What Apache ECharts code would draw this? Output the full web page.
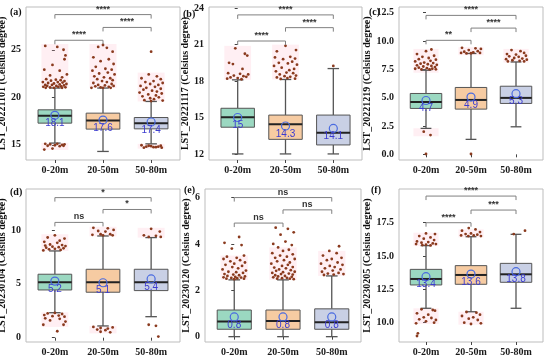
<!DOCTYPE html>
<html><head><meta charset="utf-8">
<script src="https://cdn.jsdelivr.net/npm/echarts@6/dist/echarts.min.js"></script>
<style>html,body{margin:0;padding:0;background:#fff}#c{width:550px;height:359px}</style>
</head><body><div id="c"></div>
<script>
const categories = ['0-20m', '20-50m', '50-80m'];
const panelTags = ['(a)', '(b)', '(c)', '(d)', '(e)', '(f)'];
const yTitles = ['LST_20221101 (Celsius degree)', 'LST_20221117 (Celsius degree)', 'LST_20221219 (Celsius degree)',
  'LST_20230104 (Celsius degree)', 'LST_20230120 (Celsius degree)', 'LST_20230205 (Celsius degree)'];

// y ranges and tick values
const yRangeA = [13.4, 29.5], yTicksA = [15, 20, 25];
const yRangeB = [11.5, 24.1], yTicksB = [12, 15, 18, 21, 24];
const yRangeC = [-0.5, 13.0], yTicksC = [0, 2.5, 5, 7.5, 10, 12.5];
const yRangeD = [-0.4, 13.8], yTicksD = [0, 5, 10];
const yRangeE = [-0.23, 6.37], yTicksE = [0, 2, 4, 6];
const yRangeF = [8.55, 20.03], yTicksF = [10, 12.5, 15, 17.5];

// box stats per group: [min, q1, median, q3, max]
const boxA = [[15.18, 17.28, 18.05, 18.68, 20.97], [14.3, 16.65, 17.56, 18.33, 20.97], [15.1, 16.68, 17.28, 17.87, 19.56]];
const boxB = [[12.0, 14.2, 15.02, 15.76, 18.1], [12.0, 13.2, 14.45, 15.2, 18.13], [12.0, 12.74, 13.75, 15.2, 19.03]];
const boxC = [[2.29, 4.05, 4.62, 5.37, 7.42], [1.32, 3.99, 4.8, 5.9, 8.9], [2.43, 4.49, 4.98, 6.01, 8.15]];
const boxD = [[2.32, 4.43, 5.14, 5.89, 8.05], [1.09, 4.22, 5.14, 6.35, 9.44], [1.95, 4.37, 5.14, 6.35, 9.29]];
const boxE = [[0.0, 0.32, 0.65, 1.15, 2.45], [0.0, 0.32, 0.68, 1.15, 2.45], [0.0, 0.32, 0.62, 1.2, 2.62]];
const boxF = [[11.08, 12.83, 13.28, 14.0, 15.78], [10.82, 12.88, 13.58, 14.28, 16.45], [11.08, 13.03, 13.63, 14.45, 16.63]];

// means (circle position) and printed mean labels
const meanA = [18.1, 17.6, 17.4], meanB = [15.0, 14.3, 14.1], meanC = [4.75, 5.05, 5.35];
const meanD = [5.25, 5.1, 5.45], meanE = [0.85, 0.85, 0.85], meanF = [13.45, 13.65, 13.83];
const meanLabelA = ['18.1', '17.6', '17.4'], meanLabelB = ['15', '14.3', '14.1'], meanLabelC = ['4.7', '4.9', '5.3'];
const meanLabelD = ['5.2', '5.1', '5.4'], meanLabelE = ['0.8', '0.8', '0.8'], meanLabelF = ['13.4', '13.6', '13.8'];

// outlier points per group: [jitter offset, value]
const outA = [
  [[-0.2,25.4],[0.05,25.3],[0.18,25.0],[0.22,24.4],[0.2,24.0],[-0.05,23.4],[-0.22,22.9],[0.1,22.8],[0.25,22.4],[-0.1,22.3],[0.15,22.1],[-0.18,21.9],[0.02,21.85],[0.12,21.8],[-0.08,21.75],[0.2,21.7],[-0.25,21.6],[0.06,21.6],[0.16,21.55],[-0.14,21.5],[-0.02,21.45],[0.24,21.4],[0.1,21.35],[-0.2,21.3],[-0.06,21.3],[0.19,21.25],[0.03,21.2],[-0.16,21.2],[0.13,21.15],[-0.24,21.1],[0.07,21.1],[-0.1,21.05],[0.22,21.05],[-0.02,21.0],[0.15,21.0],[-0.19,21.0],
   [-0.2,15.1],[-0.1,15.05],[0.05,15.1],[0.15,15.0],[0.2,15.05],[-0.15,14.9],[0.0,14.95],[0.1,14.85],[-0.05,14.6],[0.18,14.9],[-0.22,14.5]],
  [[0.0,25.5],[-0.1,25.3],[0.08,25.2],[0.2,24.8],[-0.2,24.2],[0.12,24.0],[-0.05,23.8],[0.22,23.5],[-0.15,23.2],[0.05,23.0],[0.18,22.9],[-0.22,22.8],[0.1,22.6],[-0.08,22.5],[0.24,22.4],[-0.18,22.2],[0.02,22.1],[0.15,22.0],[-0.12,21.9],[0.2,21.8],[-0.02,21.7],[0.08,21.6],[-0.2,21.5],[0.18,21.4],[-0.1,21.3],[0.04,21.25],[0.22,21.2],[-0.16,21.15],[0.12,21.1],[-0.05,21.05],[0.0,21.0],[-0.24,21.0],[0.16,21.0]],
  [[0.0,24.8],[-0.05,22.4],[0.12,22.2],[-0.2,22.0],[0.2,21.9],[0.05,21.7],[-0.12,21.6],[0.24,21.5],[-0.02,21.4],[0.15,21.3],[-0.22,21.2],[0.08,21.1],[-0.1,21.0],[0.2,20.9],[-0.16,20.8],[0.02,20.7],[0.12,20.6],[-0.24,20.5],[0.22,20.4],[-0.06,20.3],[0.1,20.2],[-0.18,20.1],[0.16,20.0],[-0.02,19.9],[0.06,19.8],[-0.14,19.7],[0.24,19.65],[0.0,19.6],
   [-0.2,14.95],[-0.1,14.8],[0.0,14.85],[0.1,14.75],[0.2,14.9],[-0.15,14.7],[0.05,14.75],[0.15,14.8],[-0.05,14.9],[0.22,14.7]]
];
const outB = [
  [[-0.05,20.7],[0.15,20.25],[0.2,20.1],[-0.18,19.5],[-0.1,19.4],[0.1,19.0],[-0.2,18.65],[0.05,18.6],[0.22,18.55],[-0.08,18.45],[0.12,18.4],[0.18,18.35],[-0.15,18.3],[0.0,18.25],[-0.22,18.2],[0.08,18.15]],
  [[0.0,20.9],[0.22,20.55],[-0.18,20.45],[0.1,20.0],[-0.22,19.95],[0.2,19.85],[-0.05,19.8],[0.14,19.6],[-0.14,19.5],[0.05,19.45],[0.24,19.35],[-0.24,19.25],[-0.08,19.1],[0.18,19.0],[0.08,18.9],[-0.2,18.8],[0.02,18.7],[0.16,18.65],[-0.12,18.55],[0.22,18.45],[-0.02,18.4],[0.1,18.35],[-0.18,18.3],[0.04,18.25],[0.2,18.2],[-0.1,18.18]],
  [[0.0,19.25]]
];
const outC = [
  [[0.12,9.25],[0.0,9.1],[-0.2,8.85],[0.18,8.7],[-0.08,8.6],[0.06,8.5],[-0.16,8.4],[0.22,8.35],[0.1,8.25],[-0.24,8.2],[-0.04,8.1],[0.16,8.05],[-0.12,8.0],[0.04,7.95],[0.24,7.9],[-0.2,7.85],[0.12,7.8],[-0.06,7.75],[0.2,7.7],[-0.16,7.65],[0.02,7.6],[0.14,7.55],[-0.24,7.55],[-0.1,7.5],[0.08,7.5],[0.22,7.5],
   [-0.05,2.0],[0.1,1.7],[0.0,0.03]],
  [[-0.2,9.4],[0.1,9.35],[0.22,9.3],[-0.05,9.2],[0.15,9.1],[-0.15,9.05],[0.05,9.0],[-0.22,8.95],[0.2,8.95],[0.0,8.92],[-0.1,8.9],
   [0.0,0.03]],
  [[-0.1,9.2],[0.1,9.1],[0.18,8.95],[-0.2,8.85],[0.0,8.8],[0.22,8.7],[-0.15,8.65],[0.06,8.6],[-0.04,8.5],[0.14,8.45],[-0.22,8.4],[0.24,8.35],[-0.08,8.3],[0.08,8.25],[0.18,8.2],[-0.18,8.2]]
];
const outD = [
  [[0.0,9.5],[-0.15,9.3],[0.2,9.2],[0.1,9.0],[-0.22,8.9],[0.05,8.8],[-0.1,8.65],[0.15,8.6],[-0.2,8.55],[0.22,8.5],[-0.05,8.45],[0.08,8.4],[-0.18,8.35],[0.18,8.3],[0.0,8.25],[-0.12,8.2],[0.12,8.15],[-0.24,8.1],
   [0.0,2.3],[-0.15,2.25],[0.15,2.2],[-0.22,2.1],[0.08,2.05],[-0.05,2.0],[0.2,1.95],[-0.2,1.8],[0.1,1.75],[-0.1,1.6],[0.22,1.5],[-0.24,1.2],[0.18,1.2],[0.05,0.6]],
  [[-0.2,10.2],[0.1,10.15],[0.22,10.0],[-0.1,9.9],[0.05,9.85],[-0.05,9.6],[0.15,9.6],[-0.22,9.55],[0.2,9.5],[0.0,9.5],
   [-0.2,1.0],[-0.05,0.9],[0.1,0.85],[0.2,0.95],[-0.12,0.75],[0.05,0.7],[0.15,0.5],[-0.05,0.55]],
  [[0.0,10.1],[0.18,9.85],[-0.15,9.5],[0.1,9.45],[-0.05,9.35],[0.2,9.35],
   [-0.05,1.2],[0.1,1.1],[0.15,0.1]]
];
const outE = [
  [[0.1,4.3],[-0.2,4.05],[0.15,3.95],[-0.05,3.8],[0.2,3.5],[-0.15,3.45],[0.05,3.4],[-0.22,3.35],[0.12,3.3],[-0.08,3.25],[0.22,3.2],[0.0,3.15],[-0.18,3.1],[0.16,3.05],[-0.04,3.0],[0.08,2.95],[-0.24,2.9],[0.24,2.85],[-0.12,2.8],[0.04,2.78],[0.18,2.75],[-0.2,2.7],[-0.02,2.68],[0.1,2.65],[-0.14,2.62],[0.22,2.6],[0.02,2.58],[-0.22,2.56],[0.14,2.55],[-0.06,2.53],[0.06,2.52],[-0.16,2.5],[0.2,2.5],[0.0,2.48]],
  [[-0.15,4.7],[0.1,4.65],[0.22,4.5],[-0.05,4.4],[0.05,4.1],[-0.2,4.0],[0.18,3.95],[-0.1,3.85],[0.12,3.75],[0.0,3.7],[-0.22,3.6],[0.2,3.55],[-0.06,3.5],[0.08,3.45],[-0.16,3.4],[0.24,3.35],[0.02,3.3],[-0.12,3.25],[0.14,3.2],[-0.24,3.15],[0.1,3.1],[-0.02,3.05],[0.2,3.0],[-0.18,2.98],[0.06,2.95],[-0.08,2.9],[0.16,2.87],[-0.14,2.84],[0.24,2.8],[0.0,2.78],[-0.22,2.75],[0.12,2.72],[-0.04,2.7],[0.2,2.68],[-0.16,2.65],[0.04,2.62],[-0.1,2.6],[0.18,2.58],[-0.2,2.56],[0.08,2.54],[-0.02,2.52],[0.14,2.5],[-0.12,2.5],[0.22,2.48]],
  [[0.15,3.9],[-0.05,3.7],[0.1,3.6],[-0.18,3.5],[0.2,3.4],[0.0,3.35],[-0.1,3.3],[0.12,3.2],[-0.22,3.15],[0.22,3.1],[-0.04,3.05],[0.06,3.0],[-0.14,2.95],[0.18,2.9],[0.02,2.85],[-0.2,2.8],[0.14,2.75],[-0.08,2.72],[0.24,2.7],[0.04,2.68],[-0.16,2.66]]
];
const outF = [
  [[0.0,16.7],[0.2,16.65],[-0.15,16.5],[0.1,16.4],[-0.05,16.3],[0.18,16.2],[-0.2,16.1],[0.05,16.05],[-0.1,16.0],[0.15,15.95],[-0.22,15.9],[0.22,15.9],[0.0,15.85],[-0.08,15.82],[0.1,15.8],
   [-0.1,11.0],[0.15,10.95],[0.2,10.9],[-0.2,10.7],[0.05,10.6],[-0.05,10.4],[0.12,10.35],[-0.15,10.25],[0.22,10.2],[0.0,10.1],[-0.22,9.95],[0.18,10.0],[-0.18,9.2],[-0.2,9.0]],
  [[-0.05,17.1],[0.1,17.0],[-0.2,16.9],[0.2,16.8],[0.0,16.7],[-0.12,16.65],[0.14,16.6],[-0.22,16.55],[0.06,16.55],[0.22,16.5],[-0.06,16.5],
   [-0.1,10.8],[0.12,10.75],[0.2,10.6],[-0.2,10.5],[0.05,10.4],[-0.05,10.3],[0.15,10.2],[-0.15,10.0],[0.22,9.95],[0.0,9.9]],
  [[-0.05,16.65],[0.2,16.9]]
];

// pink outlier bands: [group, low, high]
const pinkA = [[0,20.97,25.6],[0,14.45,15.2],[1,20.97,25.6],[2,19.56,22.6],[2,14.6,15.1]];
const pinkB = [[0,18.1,20.9],[1,18.13,21.0]];
const pinkC = [[0,7.2,9.3],[0,1.6,2.3],[1,8.75,9.45],[2,8.1,9.3]];
const pinkD = [[0,8.05,9.6],[0,1.0,2.35],[1,9.4,10.3],[1,0.4,1.09],[2,9.29,10.2]];
const pinkE = [[0,2.45,3.5],[1,2.45,3.85],[2,2.62,3.7]];
const pinkF = [[0,15.75,16.75],[0,9.9,11.08],[1,16.4,17.0],[1,9.85,10.82]];

// significance brackets: [group1, group2, height]
const brA = [[0,1,26.0],[1,2,27.35],[0,2,28.7]], sigA = ['****','****','****'];
const brB = [[0,1,21.3],[1,2,22.4],[0,2,23.45]], sigB = ['****','****','****'];
const brC = [[0,1,10.06],[1,2,11.14],[0,2,12.26]], sigC = ['**','****','****'];
const brD = [[0,1,10.7],[1,2,11.9],[0,2,13.0]], sigD = ['ns','*','*'];
const brE = [[0,1,4.9],[1,2,5.47],[0,2,6.0]], sigE = ['ns','ns','ns'];
const brF = [[0,1,17.5],[1,2,18.45],[0,2,19.5]], sigF = ['****','***','****'];

const panels = [
  {range: yRangeA, ticks: yTicksA, dec: 0, box: boxA, mean: meanA, ml: meanLabelA, out: outA, pink: pinkA, br: brA, sig: sigA},
  {range: yRangeB, ticks: yTicksB, dec: 0, box: boxB, mean: meanB, ml: meanLabelB, out: outB, pink: pinkB, br: brB, sig: sigB},
  {range: yRangeC, ticks: yTicksC, dec: 1, box: boxC, mean: meanC, ml: meanLabelC, out: outC, pink: pinkC, br: brC, sig: sigC},
  {range: yRangeD, ticks: yTicksD, dec: 0, box: boxD, mean: meanD, ml: meanLabelD, out: outD, pink: pinkD, br: brD, sig: sigD},
  {range: yRangeE, ticks: yTicksE, dec: 0, box: boxE, mean: meanE, ml: meanLabelE, out: outE, pink: pinkE, br: brE, sig: sigE},
  {range: yRangeF, ticks: yTicksF, dec: 1, box: boxF, mean: meanF, ml: meanLabelF, out: outF, pink: pinkF, br: brF, sig: sigF}
];

// layout (pixels)
const gridPos = [
  {left: 26, top: 7, width: 154, height: 153},
  {left: 209, top: 7, width: 153, height: 153},
  {left: 399, top: 7, width: 144, height: 153},
  {left: 26, top: 189, width: 154, height: 153},
  {left: 205, top: 189, width: 156, height: 153},
  {left: 399, top: 189, width: 144, height: 153}
];
const nameGaps = [13, 13, 20, 13, 9, 20];
const tagPos = [[17, 13], [190, 15], [376, 13], [17, 193], [191, 191], [378, 191]];
const boxFills = ['#9bd8c1', '#f6cba2', '#c9d0e5'];
const SERIF = 'Liberation Serif';

const chart = echarts.init(document.getElementById('c'), null, {renderer: 'canvas'});
const grids = [], xAxes = [], yAxes = [], series = [], graphics = [];

panels.forEach((p, i) => {
  grids.push(Object.assign({show: true, borderColor: '#bdbdbd', borderWidth: 1, backgroundColor: 'transparent', containLabel: false, outerBoundsMode: 'none'}, gridPos[i]));
  xAxes.push({
    type: 'value', gridIndex: i, min: -0.6, max: 2.6,
    axisLine: {show: false}, splitLine: {show: false},
    axisTick: {show: true, customValues: [0, 1, 2], length: 3, lineStyle: {color: '#444'}},
    axisLabel: {customValues: [0, 1, 2], formatter: v => categories[Math.round(v)], fontFamily: SERIF, fontWeight: 'bold', fontSize: 10, color: '#1a1a1a', margin: 5}
  });
  yAxes.push({
    type: 'value', gridIndex: i, min: p.range[0], max: p.range[1],
    name: yTitles[i], nameLocation: 'middle', nameGap: nameGaps[i],
    nameTextStyle: {fontFamily: SERIF, fontWeight: 'bold', fontSize: 10, color: '#111'},
    axisLine: {show: false}, splitLine: {show: false},
    axisTick: {show: true, customValues: p.ticks, length: 3, lineStyle: {color: '#444'}},
    axisLabel: {customValues: p.ticks, formatter: v => v.toFixed(p.dec), fontFamily: SERIF, fontWeight: 'bold', fontSize: 10, color: '#1a1a1a', margin: 5}
  });
  // pink bands
  series.push({
    type: 'custom', xAxisIndex: i, yAxisIndex: i, silent: true, z: 1,
    data: p.pink.map(b => [b[0], b[1], b[2]]),
    encode: {x: 0, y: [1, 2]},
    renderItem: (params, api) => {
      const g = api.value(0);
      const a = api.coord([g - 0.28, api.value(2)]);
      const b = api.coord([g + 0.28, api.value(1)]);
      return {type: 'rect', shape: {x: a[0], y: a[1], width: b[0] - a[0], height: b[1] - a[1]}, style: {fill: 'rgba(255,175,195,0.2)'}};
    }
  });
  // boxes
  series.push({
    type: 'custom', xAxisIndex: i, yAxisIndex: i, silent: true, z: 2,
    data: p.box.map((b, g) => [g, b[0], b[1], b[2], b[3], b[4], p.mean[g]]),
    encode: {x: 0, y: [1, 5]},
    renderItem: (params, api) => {
      const g = api.value(0);
      const pMx = api.coord([g, api.value(5)]), pQ3 = api.coord([g, api.value(4)]);
      const pMd = api.coord([g, api.value(3)]), pQ1 = api.coord([g, api.value(2)]);
      const pMn = api.coord([g, api.value(1)]), pMe = api.coord([g, api.value(6)]);
      const hw = api.size([0.35, 0])[0], cw = api.size([0.12, 0])[0];
      const cx = pMd[0];
      const ws = {stroke: '#555', lineWidth: 1.3};
      return {type: 'group', children: [
        {type: 'line', shape: {x1: cx, y1: pMx[1], x2: cx, y2: pQ3[1]}, style: ws},
        {type: 'line', shape: {x1: cx, y1: pQ1[1], x2: cx, y2: pMn[1]}, style: ws},
        {type: 'line', shape: {x1: cx - cw, y1: pMx[1], x2: cx + cw, y2: pMx[1]}, style: ws},
        {type: 'line', shape: {x1: cx - cw, y1: pMn[1], x2: cx + cw, y2: pMn[1]}, style: ws},
        {type: 'rect', shape: {x: cx - hw, y: pQ3[1], width: 2 * hw, height: pQ1[1] - pQ3[1]}, style: {fill: boxFills[g], stroke: '#555', lineWidth: 1}},
        {type: 'line', shape: {x1: cx - hw, y1: pMd[1], x2: cx + hw, y2: pMd[1]}, style: {stroke: '#222', lineWidth: 2}},
        {type: 'circle', shape: {cx: cx, cy: pMe[1], r: 4}, style: {fill: 'none', stroke: '#4a6be0', lineWidth: 1.2}},
        {type: 'text', x: cx, y: pMe[1] + 8, style: {text: p.ml[g], fill: '#3c3cd0', font: '10px "Liberation Sans"', align: 'center', verticalAlign: 'middle'}}
      ]};
    }
  });
  // outlier points
  const pts = [];
  p.out.forEach((arr, g) => arr.forEach(q => pts.push([g + q[0], q[1]])));
  series.push({
    type: 'scatter', xAxisIndex: i, yAxisIndex: i, silent: true, z: 3,
    symbolSize: 2.8, itemStyle: {color: '#8a3a1e', opacity: 1}, data: pts
  });
  // significance brackets
  series.push({
    type: 'custom', xAxisIndex: i, yAxisIndex: i, silent: true, z: 4,
    data: p.br.map(b => [b[0], b[1], b[2]]),
    encode: {x: [0, 1], y: 2},
    renderItem: (params, api) => {
      const a = api.coord([api.value(0), api.value(2)]);
      const b = api.coord([api.value(1), api.value(2)]);
      return {type: 'group', children: [
        {type: 'polyline', shape: {points: [[a[0], a[1] + 4], [a[0], a[1]], [b[0], b[1]], [b[0], b[1] + 4]]}, style: {stroke: '#808080', lineWidth: 1, fill: 'none'}},
        {type: 'text', x: (a[0] + b[0]) / 2, y: a[1] - 1, style: {text: p.sig[params.dataIndex], fill: '#333', font: 'bold 9px "Liberation Sans"', align: 'center', verticalAlign: 'bottom'}}
      ]};
    }
  });
  graphics.push({type: 'text', left: tagPos[i][0] - 7, top: tagPos[i][1] - 6, style: {text: panelTags[i], fill: '#111', font: 'bold 10px "Liberation Serif"'}});
});

chart.setOption({
  animation: false,
  backgroundColor: '#fff',
  grid: grids, xAxis: xAxes, yAxis: yAxes, series: series, graphic: graphics
});
</script></body></html>
